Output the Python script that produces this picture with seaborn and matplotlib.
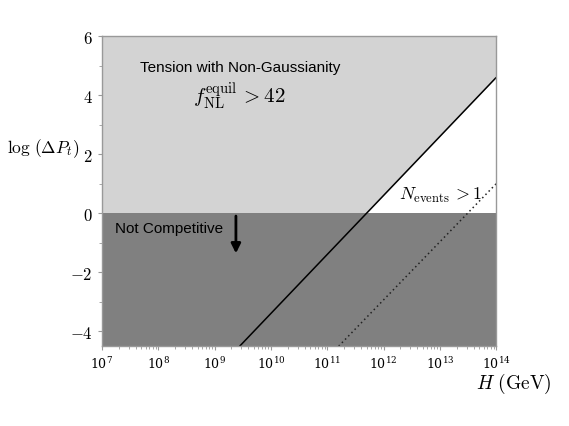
import numpy as np
import matplotlib
matplotlib.use("Agg")
import matplotlib.pyplot as plt
import seaborn as sns

# ── data ─────────────────────────────────────────────────────
H_solid = [2.8e9, 1e14]          # N_events = 1 boundary (solid)
y_solid = [-4.5, 4.6]
H_dotted = [1.6e11, 1e14]        # dotted line
y_dotted = [-4.5, 1.0]
H_light = [1e7, 5.0e11, 1e14]    # lower edge of the light (tension) region
y_light = [0.0, 0.0, 4.6]
y_top = 6.0
y_bottom = -4.5
y_ticks = [-4, -2, 0, 2, 4, 6]

sns.set_style("ticks")
plt.rcParams["mathtext.fontset"] = "cm"
plt.rcParams["font.family"] = ["DejaVu Serif"]
plt.rcParams["text.color"] = "black"
plt.rcParams["xtick.labelcolor"] = "black"
plt.rcParams["ytick.labelcolor"] = "black"

fig = plt.figure(figsize=(5.69, 4.27), dpi=100)
ax = fig.add_axes([0.179, 0.187, 0.693, 0.726])
ax.set_xscale("log")

# shaded regions
ax.fill_between(H_light, y_light, y_top, color="#d3d3d3", lw=0)
ax.axhspan(y_bottom, 0, color="#808080", lw=0)

# lines
sns.lineplot(x=H_solid, y=y_solid, ax=ax, color="black", lw=1.1)
sns.lineplot(x=H_dotted, y=y_dotted, ax=ax, color="#222222", lw=1.1,
             linestyle=(0, (1, 2)))

ax.set_xlim(1e7, 1e14)
ax.set_ylim(y_bottom, y_top)
ax.set_yticks(y_ticks)
ax.set_yticklabels([f"${v}$" for v in y_ticks], fontsize=12)
ax.set_yticks([-3, -1, 1, 3, 5], minor=True)
ax.tick_params(axis="x", labelsize=9, length=3, color="#999999")
ax.tick_params(axis="y", length=3, color="#999999")
ax.tick_params(which="minor", length=2, color="#999999")
for s in ax.spines.values():
    s.set_color("#999999")
    s.set_linewidth(1.0)

# annotations
sans = ["Liberation Sans", "DejaVu Sans"]
ax.text(10**7.67, 4.95, "Tension with Non-Gaussianity", fontsize=11,
        family=sans, va="center", color="black")
ax.text(10**8.62, 3.98, r"$f_{\rm NL}^{\rm equil}\, > 42$", fontsize=15,
        va="center")
ax.text(10**7.23, -0.5, "Not Competitive", fontsize=11, family=sans,
        va="center", color="black")
ax.annotate("", xy=(10**9.38, -1.45), xytext=(10**9.38, 0.0),
            arrowprops=dict(arrowstyle="-|>", color="black", lw=2,
                            mutation_scale=14))
ax.text(10**12.27, 0.65, r"$N_{\rm events}\, > 1$", fontsize=13, va="center")

fig.text(0.076, 0.652, r"$\log\,(\Delta P_t)$", fontsize=12.5,
         ha="center", va="center")
fig.text(0.97, 0.102, r"$H\ ({\rm GeV})$", fontsize=14, ha="right",
         va="center")

fig.savefig("out.png", dpi=100)
